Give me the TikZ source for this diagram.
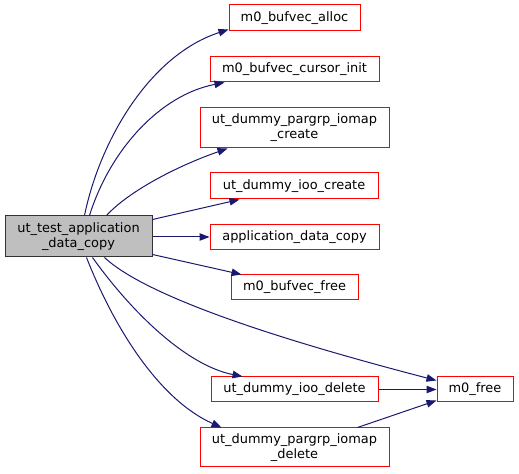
\documentclass[tikz,border=0pt]{standalone}
\usepackage{fontspec}
\setmainfont{DejaVu Sans}
\usetikzlibrary{arrows.meta,calc}
\definecolor{edgec}{HTML}{191970}
\definecolor{mainfill}{HTML}{BFBFBF}
\begin{document}
\begin{tikzpicture}[x=0.75pt,y=-0.75pt,
  fn/.style={draw=red, line width=0.75pt, fill=white, font=\fontsize{9.7}{11.2}\selectfont, align=center, inner sep=0pt, anchor=center},
  mainnode/.style={fn, draw=black!80, fill=mainfill},
  edge/.style={draw=edgec, line width=0.75pt, -{Triangle[length=7.5pt,width=5.6pt]}}]
\useasboundingbox (0,0) rectangle (519,474);

\node[mainnode, minimum width=110.25pt, minimum height=30.75pt] (main) at (78.5,236.5) {ut\_test\_application\\\_data\_copy};
\node[fn, minimum width=98.25pt, minimum height=19.5pt] (alloc) at (294.5,18) {m0\_bufvec\_alloc};
\node[fn, minimum width=126.75pt, minimum height=18.75pt] (cursor) at (294.5,69.5) {m0\_bufvec\_cursor\_init};
\node[fn, minimum width=141.75pt, minimum height=30pt] (pcreate) at (294.5,128) {ut\_dummy\_pargrp\_iomap\\\_create};
\node[fn, minimum width=126pt, minimum height=19.5pt] (ioocreate) at (294,186) {ut\_dummy\_ioo\_create};
\node[fn, minimum width=126.75pt, minimum height=18.75pt] (adc) at (294.5,237) {application\_data\_copy};
\node[fn, minimum width=95.25pt, minimum height=18.75pt] (bfree) at (294.5,287.5) {m0\_bufvec\_free};
\node[fn, minimum width=125.25pt, minimum height=18.75pt] (ioodel) at (294.5,389.5) {ut\_dummy\_ioo\_delete};
\node[fn, minimum width=57pt, minimum height=18.75pt] (m0free) at (475,389.5) {m0\_free};
\node[fn, minimum width=141.75pt, minimum height=29.25pt] (pdel) at (294.5,447.5) {ut\_dummy\_pargrp\_iomap\\\_delete};

\draw[edge] ($(main.north west)+(80,0)$) .. controls (100,140) and (150,55) .. ($(alloc.south west)+(0,-2)$);
\draw[edge] ($(main.north west)+(85,0)$) .. controls (110,150) and (160,95) .. ($(cursor.south west)+(15,0)$);
\draw[edge] ($(main.north west)+(102,0)$) .. controls (130,190) and (180,165) .. ($(pcreate.south west)+(28,0)$);
\draw[edge] ($(main.north east)+(0,4)$) -- ($(ioocreate.south west)+(30,0)$);
\draw[edge] (main.east |- adc.west) -- (adc.west);
\draw[edge] ($(main.south east)+(0,-3)$) -- ($(bfree.north west)+(11,0)$);
\draw[edge] ($(main.south west)+(100,0)$) .. controls (150,300) and (300,345) .. ($(m0free.north west)+(0,4)$);
\draw[edge] ($(main.south west)+(88,0)$) .. controls (130,310) and (185,365) .. ($(ioodel.north west)+(32,0)$);
\draw[edge] ($(main.south west)+(82,0)$) .. controls (115,330) and (160,400) .. ($(pdel.north west)+(22,0)$);
\draw[edge] (ioodel.east) -- (m0free.west);
\draw[edge] ($(pdel.north east)+(-32,0)$) -- ($(m0free.south west)+(0,-2)$);
\end{tikzpicture}
\end{document}
